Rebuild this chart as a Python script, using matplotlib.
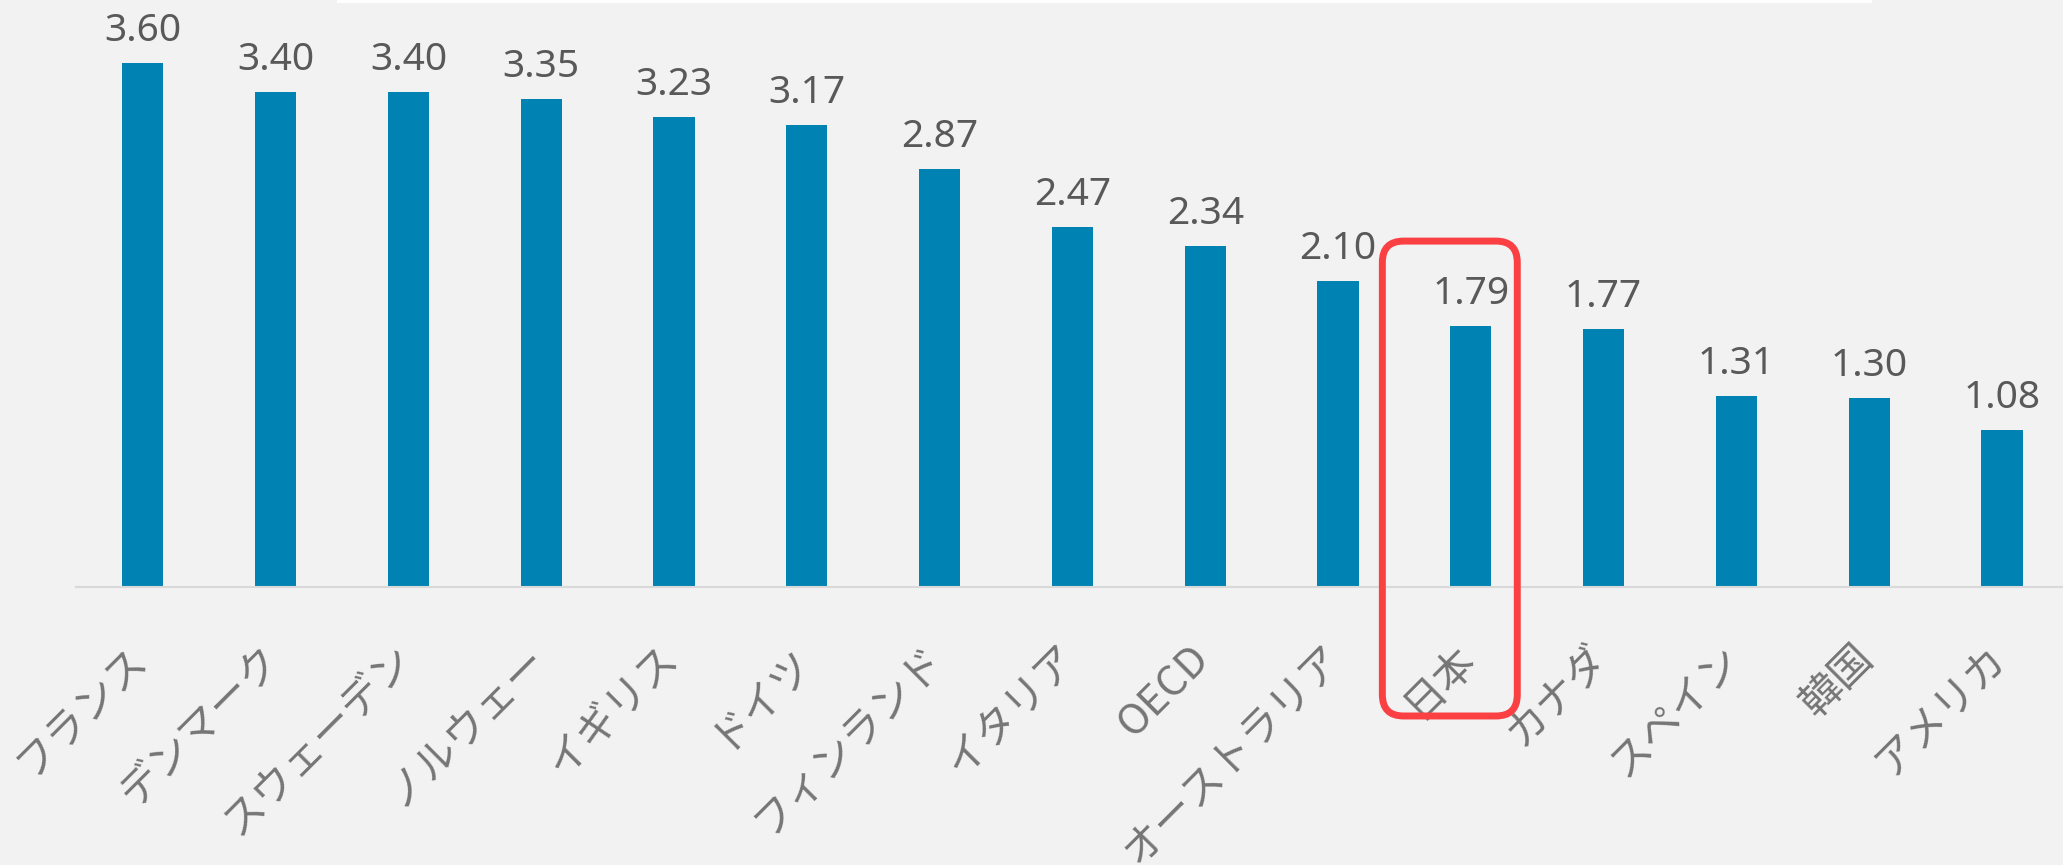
import matplotlib
matplotlib.use("Agg")
import matplotlib.pyplot as plt
from matplotlib.patches import FancyBboxPatch, Rectangle

countries = ["フランス", "デンマーク", "スウェーデン", "ノルウェー", "イギリス", "ドイツ",
             "フィンランド", "イタリア", "OECD", "オーストラリア", "日本", "カナダ",
             "スペイン", "韓国", "アメリカ"]
values = [3.60, 3.40, 3.40, 3.35, 3.23, 3.17, 2.87, 2.47, 2.34, 2.10, 1.79, 1.77, 1.31, 1.30, 1.08]
value_labels = ["3.60", "3.40", "3.40", "3.35", "3.23", "3.17", "2.87", "2.47", "2.34",
                "2.10", "1.79", "1.77", "1.31", "1.30", "1.08"]
highlight = "日本"

BG = "#F2F2F2"
BAR = "#0083B3"
RED = "#FA4043"

W, H = 2063, 865
fig = plt.figure(figsize=(W / 100, H / 100), dpi=100, facecolor=BG)

# axes: baseline at y=587px, top at figure top; x spacing 132.8px per category
ax_left = 76.4 / W
ax_bottom = (H - 587) / H
ax = fig.add_axes([ax_left, ax_bottom, 1992 / W, 1 - ax_bottom])
ax.set_facecolor(BG)
ax.patch.set_alpha(0)

x = list(range(len(countries)))
ax.bar(x, values, width=0.31, color=BAR, zorder=2)
ax.set_xlim(-0.5, len(countries) - 0.5)
ax.set_ylim(0, 4.032)

for s in ["top", "right", "left"]:
    ax.spines[s].set_visible(False)
ax.spines["bottom"].set_color("#D9D9D9")
ax.spines["bottom"].set_linewidth(1.5)
ax.set_yticks([])
ax.set_xticks([])

px2pt = 72 / 100

# value labels
for xi, v, lab in zip(x, values, value_labels):
    ax.annotate(lab, (xi, v), xytext=(0, 22 * px2pt), textcoords="offset points",
                ha="center", va="baseline", fontsize=28, color="#595959",
                family=["Noto Sans", "DejaVu Sans"])

# category labels, rotated 45 degrees
for xi, name in zip(x, countries):
    ax.annotate(name, (xi, 0), xytext=(-2 * px2pt, -65 * px2pt), textcoords="offset points",
                ha="right", va="center", rotation=45, rotation_mode="anchor",
                fontsize=30, color="#767676",
                family=["Noto Sans CJK JP", "DejaVu Sans"], annotation_clip=False)

# highlight box around Japan
hi = countries.index(highlight)
bx0, bx1 = hi - 0.666, hi + 0.35
by0, by1 = -0.886, 2.376
box = FancyBboxPatch((bx0, by0), bx1 - bx0, by1 - by0,
                     boxstyle="round,pad=0,rounding_size=0.16",
                     mutation_aspect=132.8 / 145.6,
                     fill=False, edgecolor=RED, linewidth=5, clip_on=False, zorder=5)
ax.add_patch(box)

# thin white strip at the top edge
fig.add_artist(Rectangle((337 / W, 1 - 3 / H), (1872 - 337) / W, 3 / H,
                         transform=fig.transFigure, color="white", lw=0))

fig.savefig("out.png", dpi=100, facecolor=BG)
